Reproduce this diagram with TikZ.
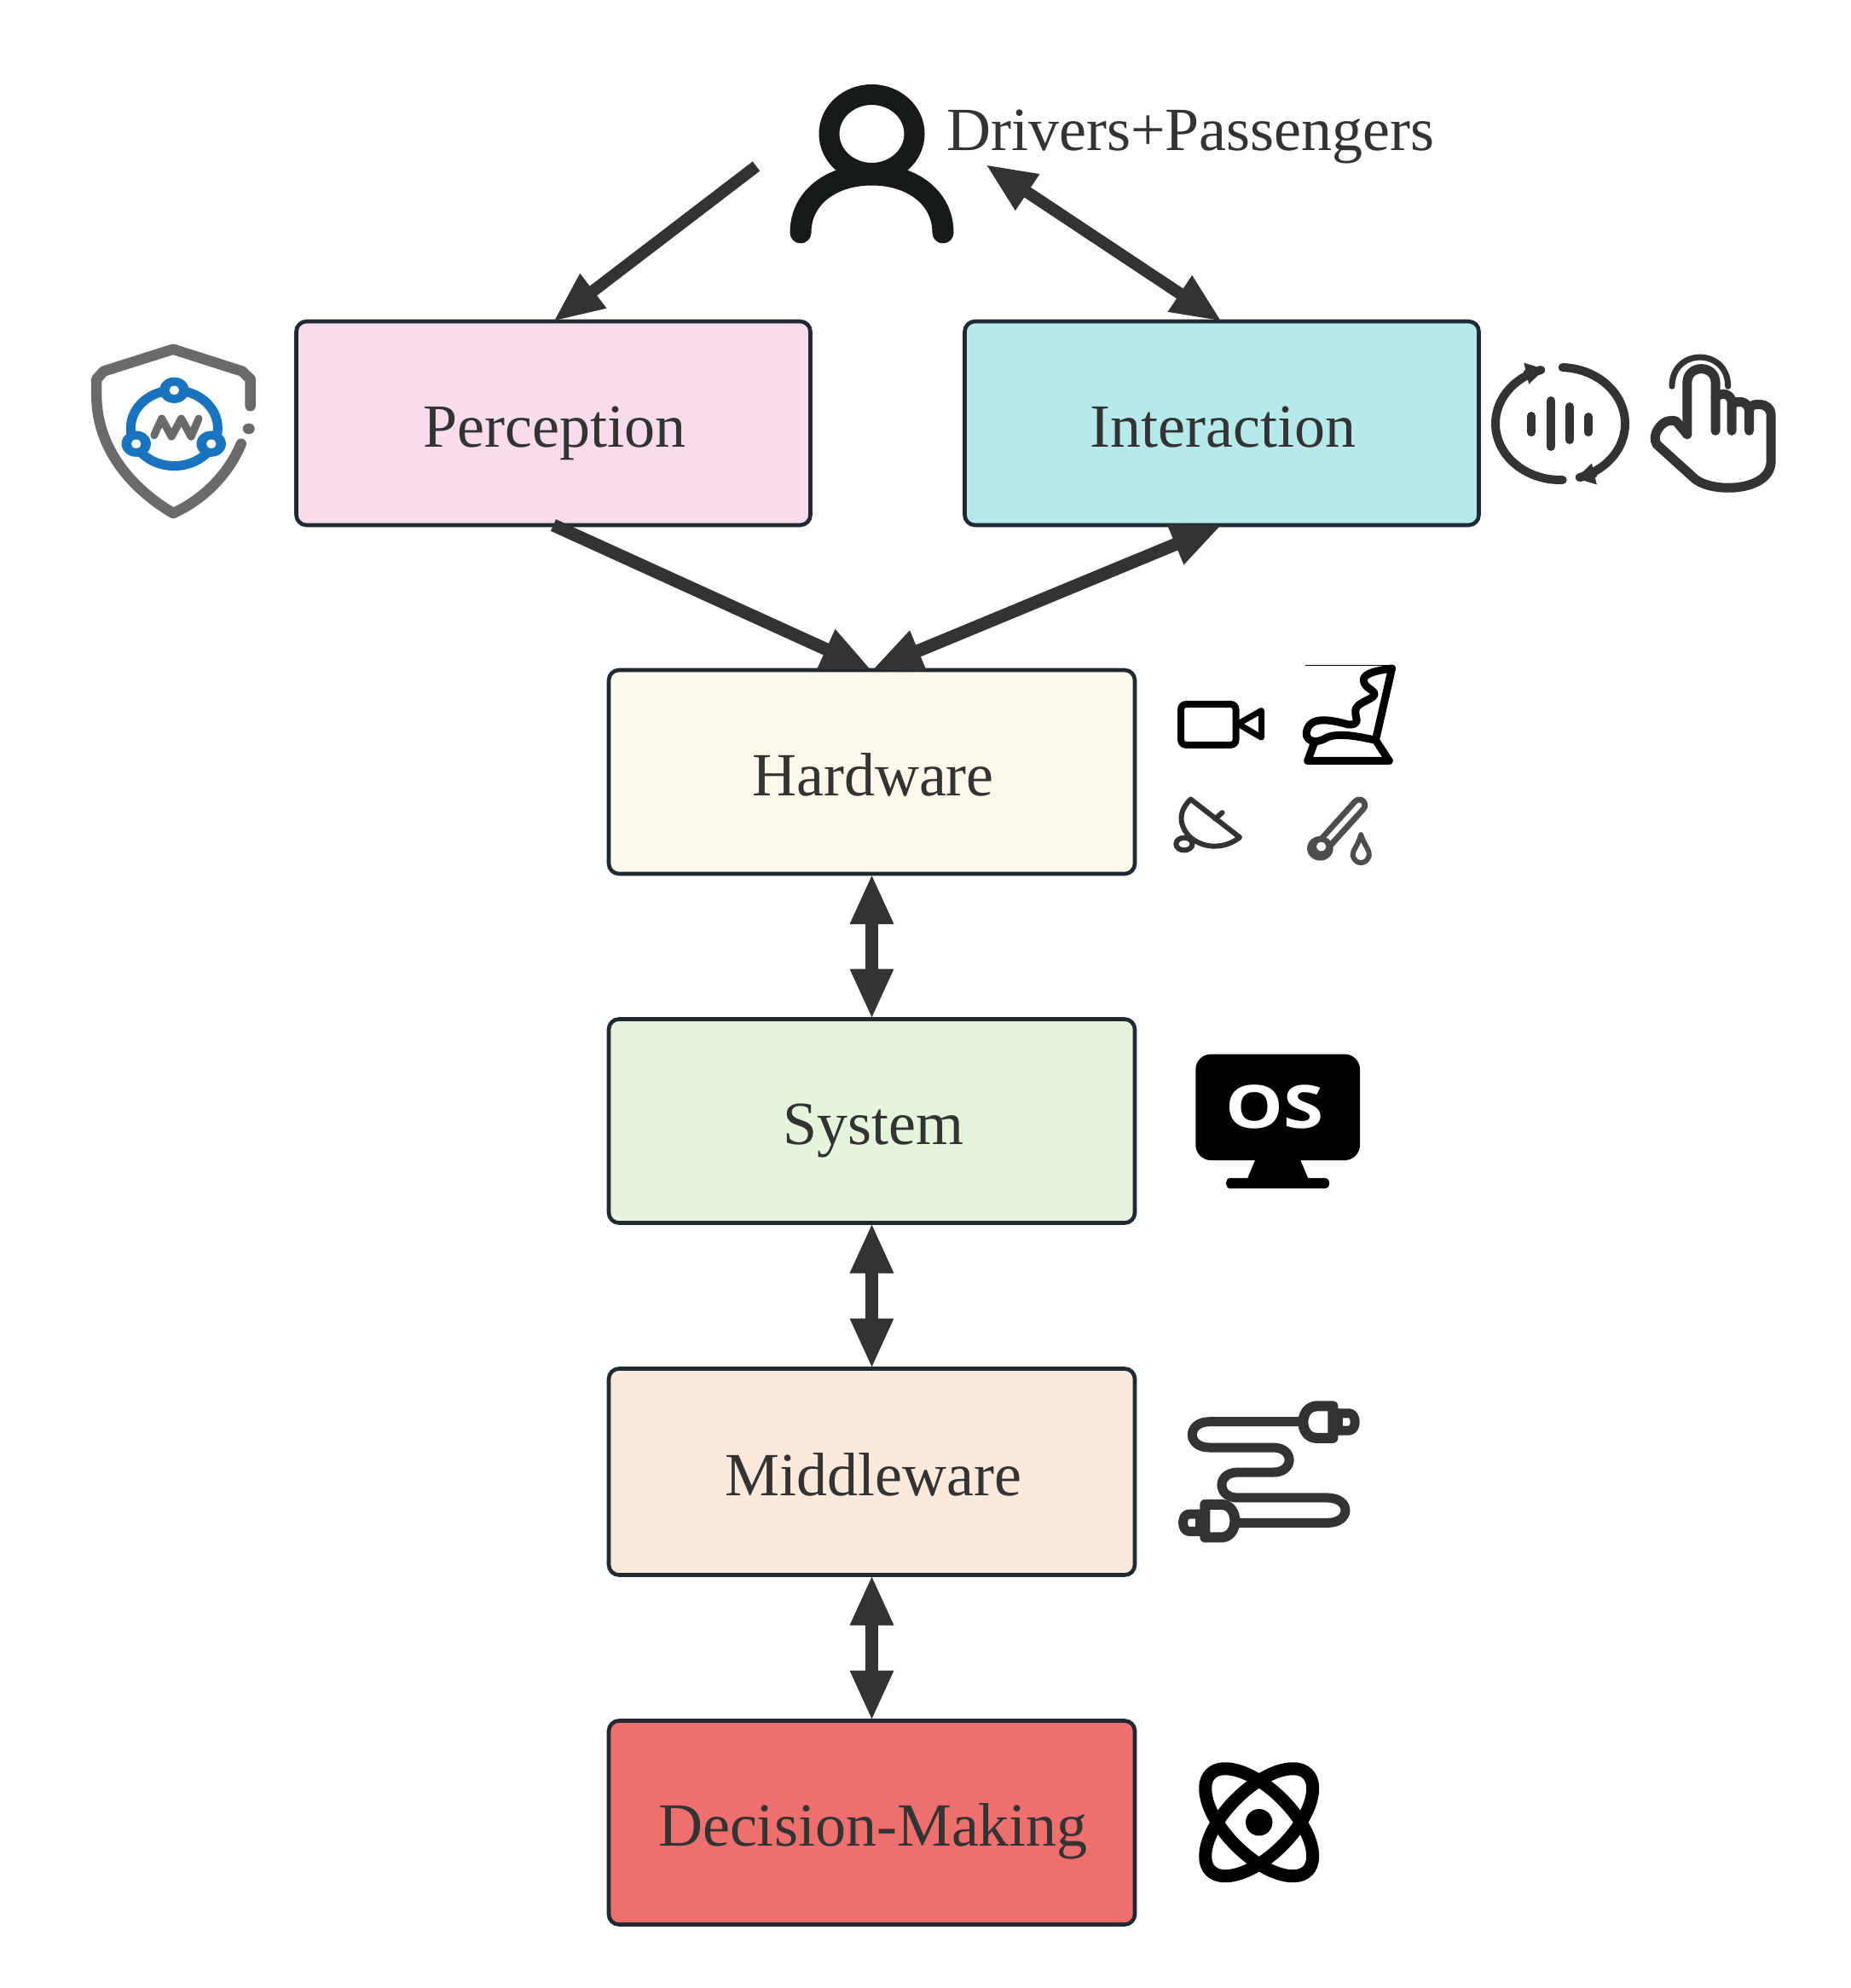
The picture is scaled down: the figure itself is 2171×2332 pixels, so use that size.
\documentclass[tikz,border=0pt]{standalone}
\usepackage{fontspec}
\setmainfont{Liberation Serif}
\newfontfamily\osfont{Open Sans}
\usetikzlibrary{arrows.meta}
\definecolor{txt}{HTML}{333333}
\definecolor{edge}{HTML}{333333}
\definecolor{bord}{HTML}{1F2A33}
\definecolor{pinkb}{HTML}{F9DCEC}
\definecolor{tealb}{HTML}{B6EAEA}
\definecolor{creamb}{HTML}{FCF8EA}
\definecolor{greenb}{HTML}{E5F5DC}
\definecolor{peachb}{HTML}{FBEADC}
\definecolor{redb}{HTML}{ED706E}
\definecolor{persk}{HTML}{161A18}
\definecolor{shieldg}{HTML}{6A6A6A}
\definecolor{shieldb}{HTML}{1A73BD}
\definecolor{thermo}{HTML}{4D4D4D}
\tikzset{
  box/.style={draw=bord,line width=2.3pt,rounded corners=6pt,inner sep=0pt,outer sep=0pt,
    minimum width=#1,minimum height=119.5pt,text=txt,
    font=\fontsize{36pt}{40pt}\selectfont,text height=32pt,text depth=4.5pt,
    execute at begin node={\hspace*{1.5pt}}},
  box/.default=301.5pt,
  arr/.style={draw=edge,fill=edge,line width=7.5pt},
  tipA/.tip={Triangle[length=29.5pt,width=23.5pt]},
  icon/.style={line cap=round,line join=round},
}
\begin{document}
\begin{tikzpicture}[x=0.5pt,y=-0.5pt]
\useasboundingbox[fill=white] (0,0) rectangle (2171,2332);

% boxes
\node[box,fill=pinkb] (perception) at (649,496.5) {Perception};
\node[box,fill=tealb] (interaction) at (1433,496.5) {Interaction};
\node[box=308.5pt,fill=creamb] (hardware) at (1022.5,905.5) {Hardware};
\node[box=308.5pt,fill=greenb] (system) at (1022.5,1315) {System};
\node[box=308.5pt,fill=peachb,minimum height=121pt] (middleware) at (1022.5,1726.5) {Middleware};
\node[box=308.5pt,fill=redb] (decision) at (1022.5,2138) {Decision-Making};

% label and person
\node[anchor=base west,inner sep=0pt,text=txt,font=\fontsize{36pt}{40pt}\selectfont] (drivers) at (1110,176.5) {Drivers+Passengers};
\coordinate (personL) at (887,195);
\coordinate (personR) at (1156,193);

% connectors
\draw[arr,line width=7pt,-{tipA}] (personL) -- (perception.north);
\draw[arr,line width=7pt,{tipA}-{tipA}] (personR) -- (interaction.north);
\draw[arr,-{tipA}] (perception.south) -- (hardware.north);
\draw[arr,{tipA}-{tipA}] (hardware.north) -- (interaction.south);
\draw[arr,{tipA}-{tipA}] (hardware.south) -- (system.north);
\draw[arr,{tipA}-{tipA}] (system.south) -- (middleware.north);
\draw[arr,{tipA}-{tipA}] (middleware.south) -- (decision.north);

% person icon
\draw[persk,line width=12pt] (1022.5,157) ellipse [x radius=50,y radius=46];
\draw[persk,icon,line width=12.5pt] (939,273) .. controls (939,232) and (975,205) .. (1022.5,205) .. controls (1070,205) and (1106,232) .. (1106,273);

% shield icon
\begin{scope}[shift={(80,60)},x=0.3189pt,y=-0.185pt]
\draw[shieldg,icon,line width=6.2pt] (335,1125) -- (335,1040) -- (320,1015) -- (193,945) -- (65,1015) -- (52,1040) -- (52,1090) .. controls (52,1250) and (110,1380) .. (193,1465) .. controls (250,1420) and (295,1340) .. (318,1245);
\fill[shieldg] (332,1197) ellipse [x radius=11,y radius=17];
\draw[shieldb,line width=5.5pt] (195,1195) ellipse [x radius=80,y radius=120];
\foreach \px/\py in {195/1075,125/1245,263/1245}{
  \fill[shieldb] (\px,\py) ellipse [x radius=27,y radius=41];
  \fill[white] (\px,\py) ellipse [x radius=9,y radius=14];
}
\draw[shieldg,icon,line width=4.5pt] (158,1218) -- (172,1165) -- (190,1222) -- (208,1165) -- (226,1222) -- (240,1165);
\end{scope}

% voice icon
\begin{scope}[edge,icon,line width=5pt]
\draw[-{Triangle[length=11pt,width=12pt]}] plot[domain=-88:76,samples=40,smooth] ({1830+76*cos(\x)},{497+66*sin(\x)});
\draw[-{Triangle[length=11pt,width=12pt]}] plot[domain=88:256,samples=40,smooth] ({1830+76*cos(\x)},{497+66*sin(\x)});
\draw (1796,488) -- (1796,507);
\draw (1819,470) -- (1819,524);
\draw (1841,477) -- (1841,516);
\draw (1863,489) -- (1863,507);
\end{scope}

% icons in the coordinates of the right-hand crop
\begin{scope}[shift={(1100,360)},x=0.3189pt,y=-0.2168pt]
% hand
\begin{scope}[edge,icon,line width=5.5pt]
\draw (1378,345) -- (1378,205) .. controls (1378,155) and (1430,155) .. (1430,205) -- (1430,335);
\draw[line width=3.5pt] (1350,215) .. controls (1350,110) and (1453,110) .. (1453,215);
\draw (1378,345) -- (1358,310) .. controls (1335,295) and (1310,345) .. (1322,372) -- (1392,465) .. controls (1425,505) and (1530,500) .. (1532,420) -- (1532,290) .. controls (1532,258) and (1492,255) .. (1492,280) -- (1492,335);
\draw (1430,245) .. controls (1445,225) and (1460,240) .. (1460,260) -- (1460,335);
\draw (1460,265) .. controls (1470,250) and (1490,255) .. (1492,280);
\end{scope}
% camera
\draw[black,line width=4pt,rounded corners=3pt] (447,1075) rectangle (548,1185);
\draw[black,icon,line width=3.5pt] (552,1128) -- (595,1092) -- (595,1165) -- cycle;
% seat
\draw[black,icon,line width=4.5pt] (692,1180) -- (680,1228) -- (830,1228) -- (805,1172);
\draw[black,icon,line width=4.5pt] (805,1172) -- (835,978) .. controls (800,985) and (775,995) .. (785,1020) .. controls (790,1035) and (810,1040) .. (800,1055) .. controls (785,1070) and (765,1075) .. (768,1100) .. controls (770,1120) and (775,1130) .. (755,1130) .. controls (730,1120) and (690,1105) .. (680,1140) .. controls (670,1175) and (695,1185) .. (715,1165) .. controls (740,1150) and (780,1165) .. (805,1172);
\draw[black,line width=0.5pt] (675,970) -- (835,970);
% dish
\draw[edge,icon,line width=3pt] (465,1332) -- (555,1435) .. controls (530,1465) and (490,1470) .. (462,1432) .. controls (440,1395) and (445,1360) .. (465,1332);
\draw[edge,icon,line width=3pt] (510,1385) -- (523,1368);
\draw[edge,line width=3pt,fill=white] (453,1453) ellipse [x radius=15,y radius=17];
% thermometer
\draw[thermo,icon,line width=10pt] (705,1462) -- (775,1348);
\draw[white,icon,line width=3pt] (712,1450) -- (775,1348);
\fill[thermo] (703,1465) ellipse [x radius=24,y radius=33];
\fill[white] (705,1460) ellipse [x radius=9,y radius=12];
\draw[thermo,icon,line width=3pt,fill=white] (778,1428) .. controls (785,1460) and (795,1470) .. (793,1485) .. controls (788,1510) and (768,1510) .. (763,1485) .. controls (762,1470) and (772,1460) .. (778,1428) -- cycle;
\end{scope}

% OS monitor and plug, coordinates of the middle crop
\begin{scope}[shift={(1340,1200)},x=0.1667pt,y=-0.2075pt]
\fill[black,rounded corners=9pt] (187,88) rectangle (765,388);
\fill[black] (400,380) -- (370,438) -- (310,438) .. controls (288,438) and (288,468) .. (310,468) -- (640,468) .. controls (663,468) and (663,438) .. (640,438) -- (582,438) -- (552,380) -- cycle;
\node[inner sep=0pt,text=white,font=\osfont\bfseries\fontsize{35pt}{40pt}\selectfont] (oslabel) at (466,238) {\scalebox{1.22}[1]{OS}};
\begin{scope}[edge,icon,line width=5.5pt]
\draw (550,1127) -- (235,1127) .. controls (155,1127) and (155,1200) .. (235,1200) -- (460,1200) .. controls (535,1200) and (535,1270) .. (460,1270) -- (335,1270) .. controls (260,1270) and (260,1342) .. (335,1342) -- (650,1342) .. controls (735,1342) and (735,1413) .. (650,1413) -- (340,1413);
\draw[line width=6pt] (670,1083) -- (610,1083) .. controls (550,1087) and (550,1170) .. (610,1173) -- (670,1173) -- cycle;
\draw (680,1103) -- (725,1103) .. controls (755,1103) and (755,1152) .. (725,1152) -- (680,1152);
\draw (688,1103) -- (688,1152);
\draw[line width=6pt] (220,1361) -- (280,1361) .. controls (340,1364) and (340,1450) .. (280,1454) -- (220,1454) -- cycle;
\draw (205,1388) -- (165,1388) .. controls (135,1388) and (135,1437) .. (165,1437) -- (205,1437);
\draw (202,1388) -- (202,1437);
\end{scope}
\end{scope}

% atom icon
\coordinate (atomc) at (1476.7,2137.7);
\draw[black,line width=7.5pt,rotate around={45:(atomc)}] (atomc) ellipse [x radius=80.4,y radius=38.4];
\draw[black,line width=7.5pt,rotate around={-45:(atomc)}] (atomc) ellipse [x radius=80.4,y radius=38.4];
\fill[black] (atomc) circle [radius=15.7];
\end{tikzpicture}
\end{document}
